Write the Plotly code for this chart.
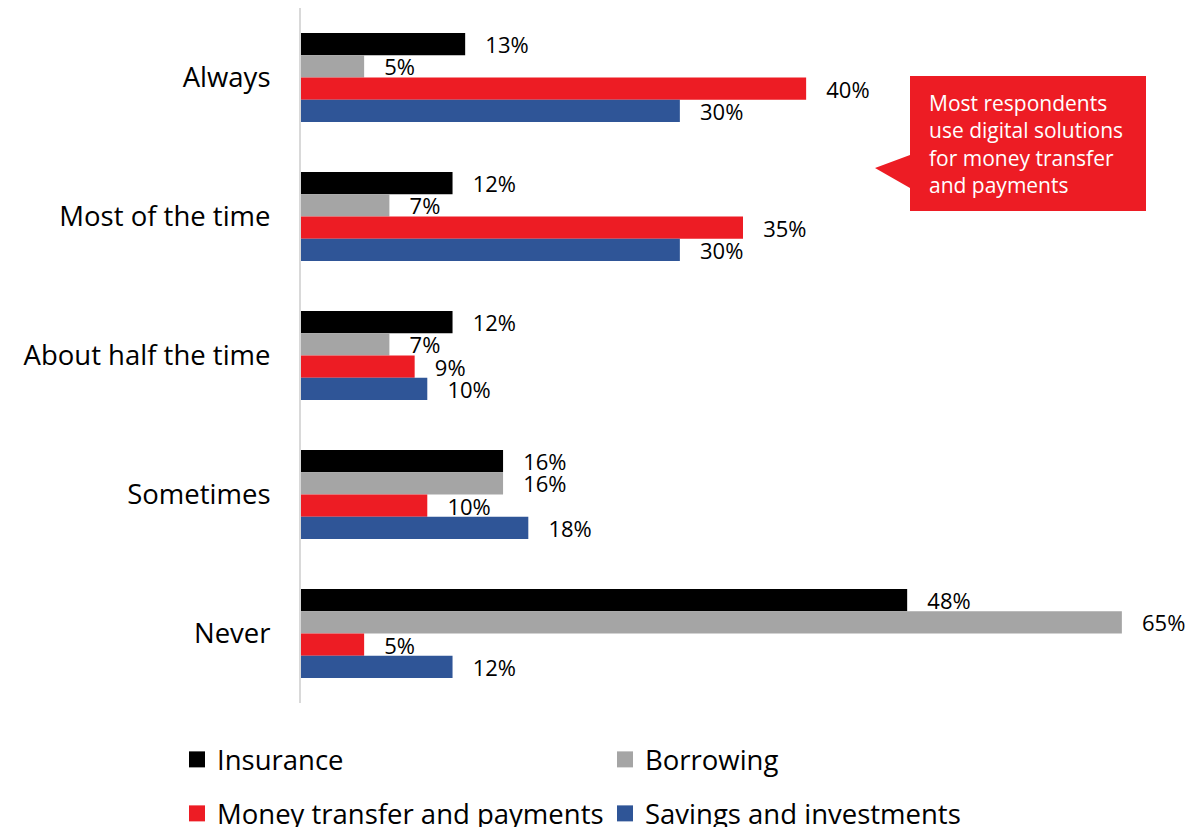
import plotly.graph_objects as go

# Survey: how often respondents use digital solutions, by product type
categories = ["Always", "Most of the time", "About half the time", "Sometimes", "Never"]
insurance = [13, 12, 12, 16, 48]
borrowing = [5, 7, 7, 16, 65]
money_transfer = [40, 35, 9, 10, 5]
savings = [30, 30, 10, 18, 12]

series = [
    ("Insurance", insurance, "#000000", "legend"),
    ("Borrowing", borrowing, "#a5a5a5", "legend"),
    ("Money transfer and payments", money_transfer, "#ed1c24", "legend2"),
    ("Savings and investments", savings, "#2f5597", "legend2"),
]

FONT = "Open Sans, sans-serif"
W, H = 1201, 827
L, R, T, B = 301, 16, 8, 124
X_MAX = 70

fig = go.Figure()
for name, vals, color, lg in series:
    fig.add_trace(go.Bar(
        y=categories, x=vals, orientation="h", name=name,
        marker=dict(color=color, line=dict(width=0)),
        text=[f"\u00a0\u00a0\u00a0{v}%" for v in vals],
        textposition="outside", textangle=0, constraintext="none",
        cliponaxis=False,
        textfont=dict(family=FONT, size=22, color="#000000"),
        showlegend=False, hoverinfo="skip",
    ))
    # legend swatch with a larger square symbol
    fig.add_trace(go.Scatter(
        x=[None], y=[None], mode="markers", name=name, legend=lg,
        marker=dict(symbol="square", size=18, color=color),
        showlegend=True,
    ))

# pixel -> paper helpers for the callout
pw, ph = W - L - R, H - T - B
def px(x):
    return (x - L) / pw
def py(y):
    return (H - B - y) / ph

box_l, box_r, box_t, box_b = 910, 1146, 76, 211
tip_x, tip_y, base_t, base_b = 875, 168, 155, 188
path = (f"M {px(box_l)} {py(box_t)} L {px(box_r)} {py(box_t)} "
        f"L {px(box_r)} {py(box_b)} L {px(box_l)} {py(box_b)} "
        f"L {px(box_l)} {py(base_b)} L {px(tip_x)} {py(tip_y)} "
        f"L {px(box_l)} {py(base_t)} Z")
fig.add_shape(type="path", path=path, xref="paper", yref="paper",
              fillcolor="#ed1c24", line=dict(width=0), layer="above")
fig.add_annotation(
    xref="paper", yref="paper", x=px(927), y=py(144),
    xanchor="left", yanchor="middle", align="left", showarrow=False,
    text="Most respondents<br>use digital solutions<br>for money transfer<br>and payments",
    font=dict(family=FONT, size=21, color="#ffffff"),
)

legend_common = dict(
    orientation="h", xref="container", yref="container",
    xanchor="left", yanchor="middle", x=(188 - 11) / W,
    font=dict(family=FONT, size=27.5, color="#000000"),
    entrywidth=383, bgcolor="rgba(0,0,0,0)", itemclick=False,
)

fig.update_layout(
    width=W, height=H,
    margin=dict(l=L, r=R, t=T, b=B, autoexpand=False),
    paper_bgcolor="#ffffff", plot_bgcolor="#ffffff",
    barmode="group", bargap=0.36, bargroupgap=0,
    font=dict(family=FONT, color="#000000"),
    xaxis=dict(range=[0, X_MAX], visible=False, fixedrange=True),
    yaxis=dict(
        autorange="reversed", showline=True, linecolor="#d9d9d9", linewidth=2,
        showgrid=False, zeroline=False, ticks="", ticklabelstandoff=23,
        tickfont=dict(family=FONT, size=27.5, color="#000000"),
    ),
    legend=dict(y=1 - 759.5 / H, **legend_common),
    legend2=dict(y=1 - 813.5 / H, **legend_common),
)

fig.write_html("out.html")
